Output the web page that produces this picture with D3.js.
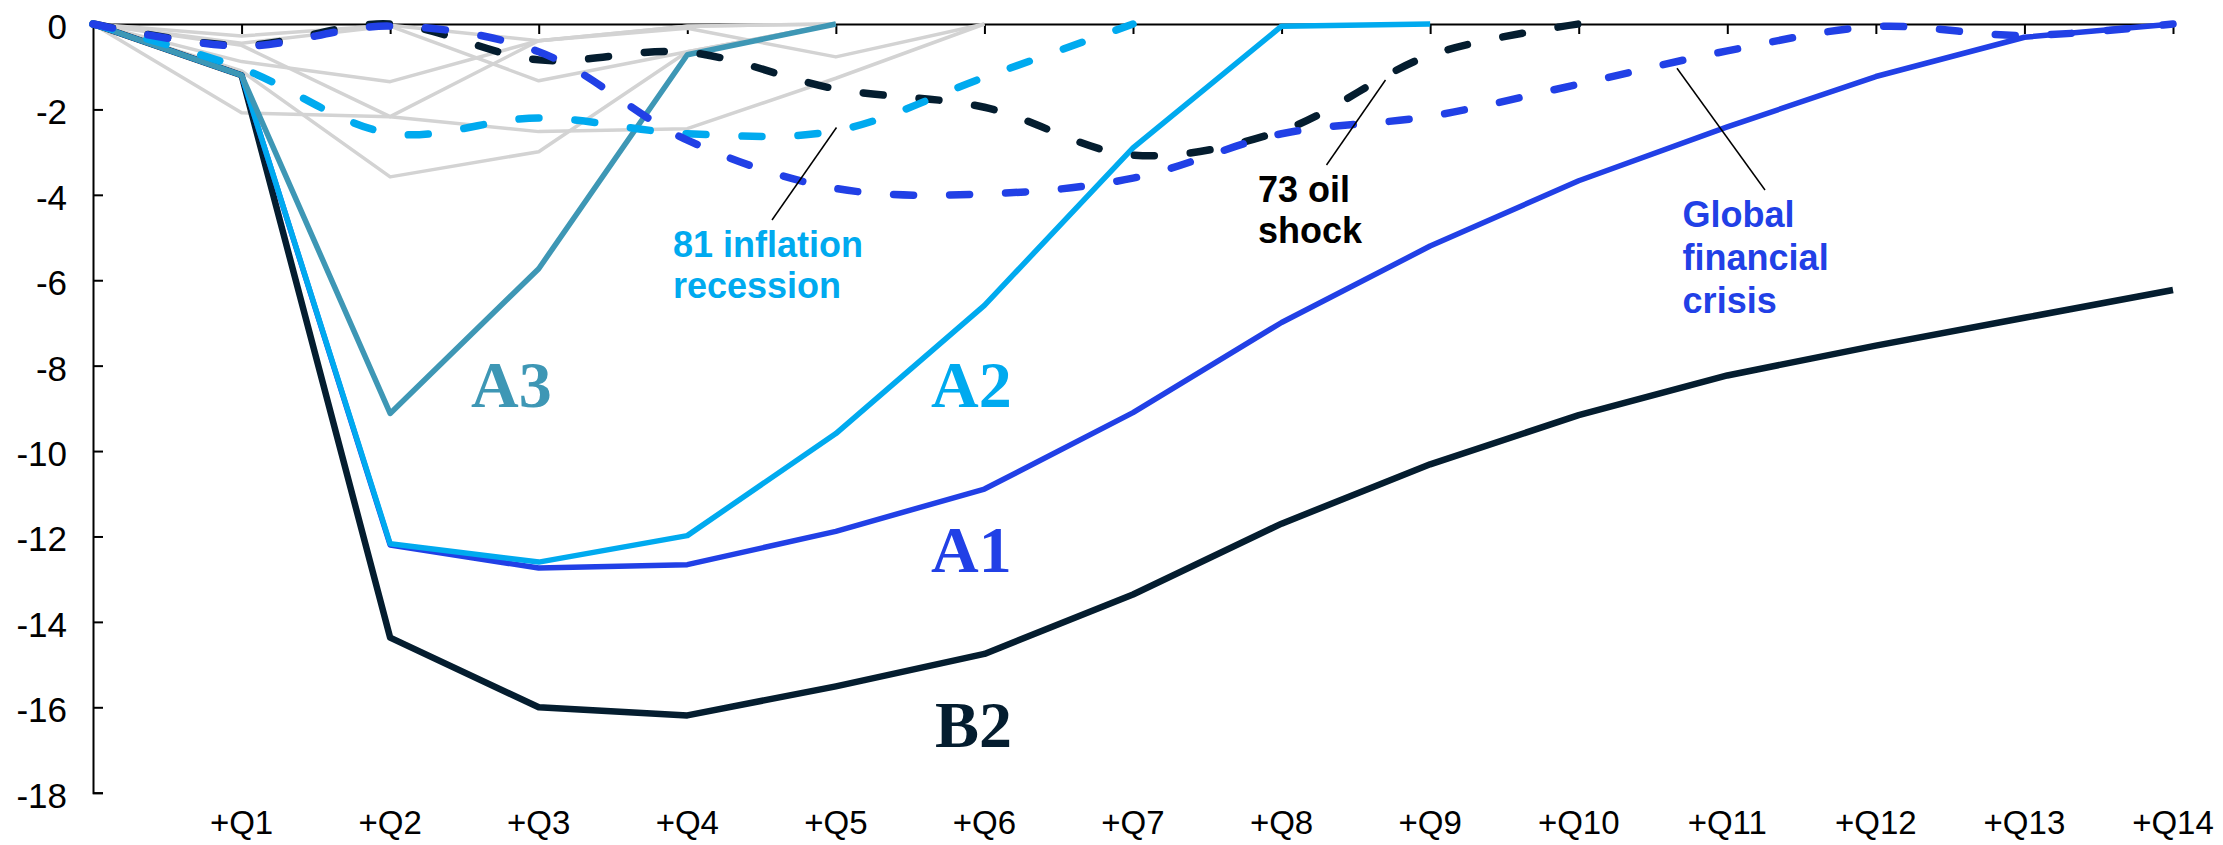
<!DOCTYPE html>
<html lang="en">
  <head>
    <meta charset="UTF-8" />
    <title>Recession paths</title>
    <style>
      body { margin: 0; background: #fff; }
      .chart text { font-family: "Liberation Sans", Arial, sans-serif; }
    </style>
  </head>
  <body>
    <div class="chart"></div>
    <script src="https://d3js.org/d3.v7.min.js"></script>
    <script>

    // quarters after the start of the recession
    var quarters = ["+Q1", "+Q2", "+Q3", "+Q4", "+Q5", "+Q6", "+Q7",
                    "+Q8", "+Q9", "+Q10", "+Q11", "+Q12", "+Q13", "+Q14"];
    var yTicks = [0, -2, -4, -6, -8, -10, -12, -14, -16, -18];

    // scenarios (solid)
    var b2 = [0, -1.2, -14.37, -16.0, -16.19, -15.51, -14.75, -13.36, -11.7, -10.31, -9.16, -8.23, -7.53, -6.88, -6.23];
    var a1 = [0, -1.2, -12.2, -12.74, -12.66, -11.88, -10.89, -9.1, -6.99, -5.2, -3.67, -2.41, -1.23, -0.31, 0];
    var a2 = [0, -1.2, -12.17, -12.6, -11.98, -9.59, -6.59, -2.9, -0.05, 0];
    var a3 = [0, -1.2, -9.12, -5.73, -0.72, 0];

    // past recessions (dashed)
    var oil73 = [0, -0.5, 0, -0.84, -0.66, -1.52, -1.95, -3.07, -2.5, -0.73, 0];
    var infl81 = [0, -1.04, -2.56, -2.2, -2.57, -2.5, -1.25, 0];
    var gfc = [0, -0.52, -0.05, -0.65, -2.72, -3.85, -3.98, -3.61, -2.57, -2.16, -1.41, -0.63, -0.06, -0.27, 0];

    // other recessions (grey)
    var gray1 = [0, -0.28, -0.03, -0.39, -0.05, 0];
    var gray2 = [0, -0.45, -0.05, -1.33, -0.65, 0];
    var gray3 = [0, -0.5, -2.17, -0.39, -0.05, 0];
    var gray4 = [0, -0.88, -1.35, -0.39, -0.1, -0.77, 0];
    var gray5 = [0, -1.1, -3.58, -2.99, -0.65, 0];
    var gray6 = [0, -2.08, -2.17, -2.52, -2.45, -1.27, 0];

    var navy = "#041d2f", blue = "#2140e6", light = "#00aaef", teal = "#3e97b5", grey = "#d3d3d3";

    var w = 2223, h = 845;
    var svg = d3.select(".chart").append("svg")
      .attr("width", w)
      .attr("height", h);

    var x = d3.scaleLinear().domain([0, 14]).range([93, 2173]);
    var y = d3.scaleLinear().domain([-18, 0]).range([792.7, 24]);

    // y axis, ticks inward
    var yAxis = svg.append("g")
      .attr("transform", "translate(" + x(0) + ",0)")
      .call(d3.axisRight(y).tickValues(yTicks).tickSize(10).tickFormat(""));
    yAxis.select(".domain").attr("stroke", "#000").attr("stroke-width", 2);
    yAxis.selectAll(".tick line").attr("stroke", "#000").attr("stroke-width", 2);

    svg.append("g").selectAll("text")
      .data(yTicks)
      .enter()
      .append("text")
      .attr("x", x(0) - 26)
      .attr("y", function(d) { return y(d) + 15; })
      .attr("text-anchor", "end")
      .attr("font-size", "35px")
      .attr("fill", "#000")
      .text(function(d) { return d; });

    // x axis sits on zero, labels at the bottom
    var xAxis = svg.append("g")
      .attr("transform", "translate(0," + y(0) + ")")
      .call(d3.axisBottom(x).tickValues(d3.range(1, 15)).tickSize(10).tickSizeOuter(0).tickFormat(""));
    xAxis.select(".domain").attr("stroke", "#000").attr("stroke-width", 2);
    xAxis.selectAll(".tick line").attr("stroke", "#000").attr("stroke-width", 2);

    svg.append("g").selectAll("text")
      .data(quarters)
      .enter()
      .append("text")
      .attr("x", function(d, i) { return x(i + 1); })
      .attr("y", 834)
      .attr("text-anchor", "middle")
      .attr("font-size", "33px")
      .attr("fill", "#000")
      .text(function(d) { return d; });

    var straight = d3.line()
      .x(function(d, i) { return x(i); })
      .y(function(d) { return y(d); });

    var smooth = d3.line()
      .x(function(d, i) { return x(i); })
      .y(function(d) { return y(d); })
      .curve(d3.curveCatmullRom);

    var lines = svg.append("g").attr("fill", "none").attr("stroke-linejoin", "round");

    [gray1, gray2, gray3, gray4, gray5, gray6].forEach(function(s) {
      lines.append("path").attr("d", straight(s))
        .attr("stroke", grey).attr("stroke-width", 3.5);
    });

    var solid = [[b2, navy, 6.5], [a1, blue, 5.5], [a2, light, 5.5], [a3, teal, 5.5]];
    solid.forEach(function(s) {
      lines.append("path").attr("d", straight(s[0]))
        .attr("stroke", s[1]).attr("stroke-width", s[2]);
    });

    var dashed = [[oil73, navy], [infl81, light], [gfc, blue]];
    dashed.forEach(function(s) {
      lines.append("path").attr("d", smooth(s[0]))
        .attr("stroke", s[1])
        .attr("stroke-width", 7.5)
        .attr("stroke-linecap", "round")
        .attr("stroke-dasharray", "20,36");
    });

    // scenario labels
    var big = [["A3", teal, 471, 406.7], ["A2", light, 931, 406.7],
               ["A1", blue, 931, 571.7], ["B2", navy, 935, 746.7]];
    svg.append("g").selectAll("text")
      .data(big)
      .enter()
      .append("text")
      .attr("x", function(d) { return d[2]; })
      .attr("y", function(d) { return d[3]; })
      .attr("fill", function(d) { return d[1]; })
      .attr("font-size", "66px")
      .attr("font-weight", "bold")
      .style("font-family", "'Liberation Serif', 'DejaVu Serif', serif")
      .text(function(d) { return d[0]; });

    // annotations with leader lines
    var notes = [
      { lines: ["81 inflation", "recession"], color: light, x: 673, y: 256.7, gap: 41.6, from: [772, 220], to: [836.5, 127.5] },
      { lines: ["73 oil", "shock"], color: "#000", x: 1258, y: 201.7, gap: 41.6, from: [1326.5, 165], to: [1385.5, 80] },
      { lines: ["Global", "financial", "crisis"], color: blue, x: 1682.6, y: 226.7, gap: 43.3, from: [1765, 190], to: [1677, 68.3] }
    ];

    notes.forEach(function(n) {
      svg.append("line")
        .attr("x1", n.from[0]).attr("y1", n.from[1])
        .attr("x2", n.to[0]).attr("y2", n.to[1])
        .attr("stroke", "#000").attr("stroke-width", 1.5);
      var t = svg.append("text")
        .attr("fill", n.color)
        .attr("font-size", "36px")
        .attr("font-weight", "bold");
      n.lines.forEach(function(l, i) {
        t.append("tspan").attr("x", n.x).attr("y", n.y + i * n.gap).text(l);
      });
    });

    </script>
  </body>
</html>
